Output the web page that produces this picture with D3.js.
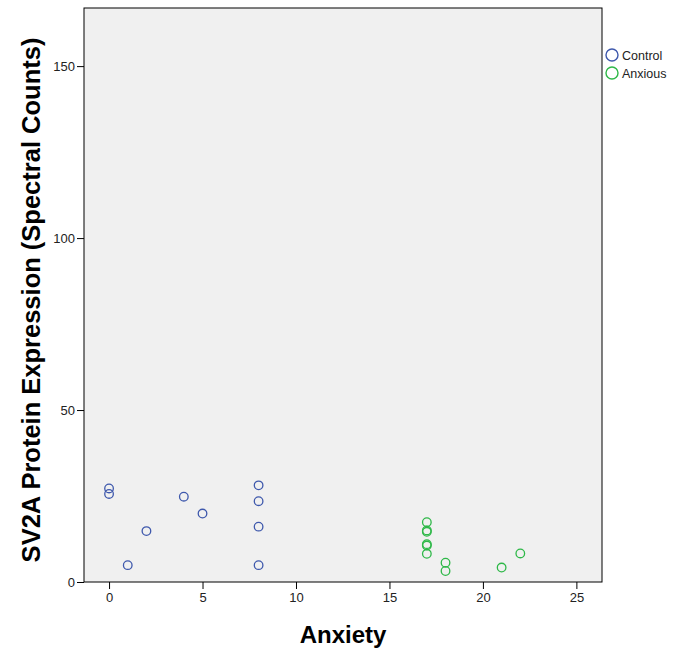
<!DOCTYPE html>
<meta charset="utf-8">
<style>
body { margin: 0; background: #fff; }
text { font-family: "Liberation Sans", Arial, sans-serif; }
.tick text { font-size: 13px; fill: #222; }
.tick line { stroke: #000; }
.domain { stroke: none; }
</style>
<body>
<script src="https://d3js.org/d3.v7.min.js"></script>
<script>

// control group
var controlX = [0, 0, 1, 2, 4, 5, 8, 8, 8, 8];
var controlY = [27.2, 25.6, 4.9, 14.8, 24.8, 19.9, 28.1, 23.5, 16.1, 4.9];

// anxious group
var anxiousX = [17, 17, 17, 17, 17, 17, 18, 18, 21, 22];
var anxiousY = [17.4, 15, 14.6, 11, 10.6, 8.2, 5.6, 3.2, 4.2, 8.3];

var xTicks = [0, 5, 10, 15, 20, 25];
var yTicks = [0, 50, 100, 150];
var groups = ["Control", "Anxious"];
var colors = ["#3e58ac", "#2eb848"];

var margin = {top: 8, right: 73, bottom: 70, left: 84},
    width = 675 - margin.left - margin.right,
    height = 652 - margin.top - margin.bottom;

var x = d3.scaleLinear().domain([-1.34, 26.37]).range([0, width]);
var y = d3.scaleLinear().domain([0, 166.9]).range([height, 0]);

var svg = d3.select("body").append("svg")
    .attr("width", 675)
    .attr("height", 652);

var g = svg.append("g")
    .attr("transform", "translate(" + margin.left + "," + margin.top + ")");

// plot background
g.append("rect")
    .attr("width", width)
    .attr("height", height)
    .attr("fill", "#f0f0f0")
    .attr("stroke", "#000")
    .attr("stroke-width", 1);

// axes
g.append("g")
    .attr("transform", "translate(0," + height + ")")
    .call(d3.axisBottom(x).tickValues(xTicks).tickSize(7).tickPadding(4));

g.append("g")
    .call(d3.axisLeft(y).tickValues(yTicks).tickSize(7).tickPadding(2));

// points
var data = [];
controlX.forEach(function (d, i) { data.push({x: d, y: controlY[i], g: 0}); });
anxiousX.forEach(function (d, i) { data.push({x: d, y: anxiousY[i], g: 1}); });

g.selectAll("circle.pt")
    .data(data)
    .enter().append("circle")
    .attr("class", "pt")
    .attr("cx", function (d) { return x(d.x); })
    .attr("cy", function (d) { return y(d.y); })
    .attr("r", 4.3)
    .attr("fill", "none")
    .attr("stroke", function (d) { return colors[d.g]; })
    .attr("stroke-width", 1.3);

// axis titles
svg.append("text")
    .attr("x", margin.left + width / 2)
    .attr("y", 643)
    .attr("text-anchor", "middle")
    .style("font-size", "24px")
    .style("font-weight", "bold")
    .text("Anxiety");

svg.append("text")
    .attr("transform", "translate(40,300) rotate(-90)")
    .attr("text-anchor", "middle")
    .style("font-size", "25.5px")
    .style("font-weight", "bold")
    .text("SV2A Protein Expression (Spectral Counts)");

// legend
var legend = svg.append("g")
    .attr("transform", "translate(612,55)");

groups.forEach(function (name, i) {
    legend.append("circle")
        .attr("cx", 0)
        .attr("cy", i * 18)
        .attr("r", 6)
        .attr("fill", "none")
        .attr("stroke", colors[i])
        .attr("stroke-width", 1.4);
    legend.append("text")
        .attr("x", 10)
        .attr("y", i * 18 + 4.5)
        .style("font-size", "12.5px")
        .attr("fill", "#222")
        .text(name);
});

</script>
</body>
